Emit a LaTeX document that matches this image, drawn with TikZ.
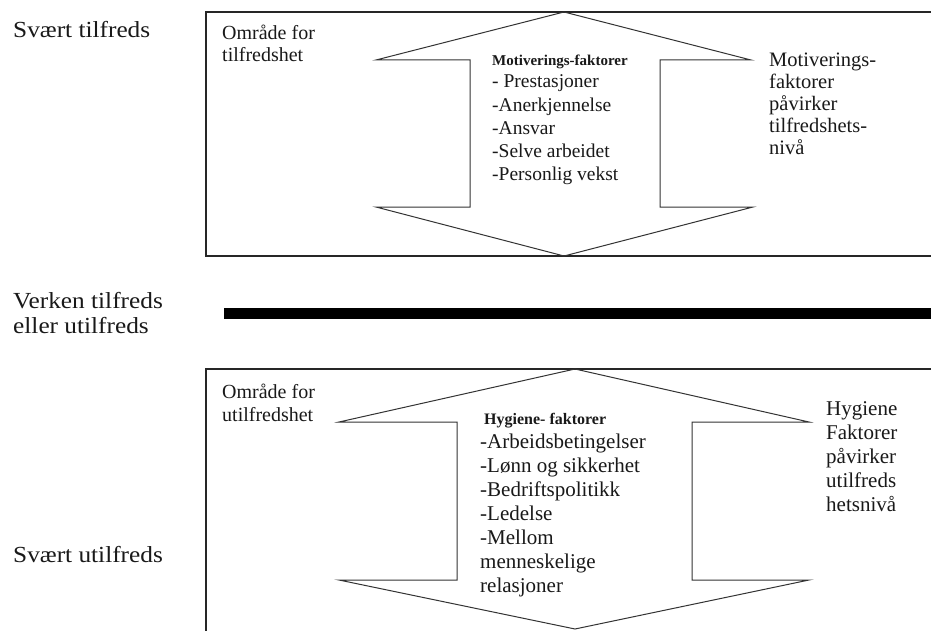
\documentclass[tikz,border=0pt]{standalone}
\usepackage{fontspec}
\setmainfont{Liberation Serif}
\newfontfamily\widefont[FakeStretch=1.1]{Liberation Serif}
\tikzset{
  frame/.style={draw=black!85, line width=1.3pt},
  arrowshape/.style={draw=black!80, line width=1pt, line join=miter},
  lbl/.style={inner sep=0pt, anchor=base west, align=left, text=black!90},
  sidelbl/.style={lbl, font=\widefont\fontsize{23}{25}\selectfont},
  boxtxt/.style={lbl, font=\fontsize{20}{22.6}\selectfont},
  toplist/.style={lbl, font=\fontsize{19.5}{23.3}\selectfont},
  botlist/.style={lbl, font=\fontsize{21}{24}\selectfont},
  ttl/.style={lbl, font=\bfseries\fontsize{15}{18}\selectfont},
}
\begin{document}
\begin{tikzpicture}[x=1pt,y=-1pt]
\useasboundingbox (0,0) rectangle (931,631);
\clip (0,0) rectangle (931,631);
\fill[white] (0,0) rectangle (931,631);
% boxes
\draw[frame] (206,12) rectangle (945,256);
\draw[frame] (206,369) rectangle (945,645);
% top double arrow
\draw[arrowshape] (564,12) -- (751,60) -- (660,60) -- (660,207) -- (753,207)
  -- (564,256) -- (376,207) -- (470,207) -- (470,60) -- (376,60) -- cycle;
% bottom double arrow
\draw[arrowshape] (575,369) -- (809,422) -- (692,422) -- (692,580) -- (809,580)
  -- (575,629) -- (339,580) -- (457,580) -- (457,422) -- (339,422) -- cycle;
% neutral line
\fill[black] (224,308) rectangle (935,319);
% left labels (anchor = baseline of the last line)
\node[sidelbl] (svt) at (13,38) {Svært tilfreds};
\node[sidelbl] (vrk) at (13,333) {Verken tilfreds\\eller utilfreds};
\node[sidelbl] (svu) at (13,562) {Svært utilfreds};
% top box texts
\node[boxtxt] (omt) at (222,62) {Område for\\tilfredshet};
\node[ttl] (mtt) at (492,66) {Motiverings-faktorer};
\node[toplist] (mlist) at (492,181) {- Prestasjoner\\-Anerkjennelse\\-Ansvar\\-Selve arbeidet\\-Personlig vekst};
\node[boxtxt, font=\fontsize{20.5}{22}\selectfont] (mright) at (769,155) {Motiverings-\\faktorer\\påvirker\\tilfredshets-\\nivå};
% bottom box texts
\node[boxtxt] (omu) at (222,421) {Område for\\utilfredshet};
\node[ttl, font=\bfseries\fontsize{16}{18}\selectfont] (htt) at (484,424) {Hygiene- faktorer};
\node[botlist] (hlist) at (480,592) {-Arbeidsbetingelser\\-Lønn og sikkerhet\\-Bedriftspolitikk\\-Ledelse\\-Mellom\\menneskelige\\relasjoner};
\node[botlist] (hright) at (826,511) {Hygiene\\Faktorer\\påvirker\\utilfreds\\hetsnivå};
\end{tikzpicture}
\end{document}
